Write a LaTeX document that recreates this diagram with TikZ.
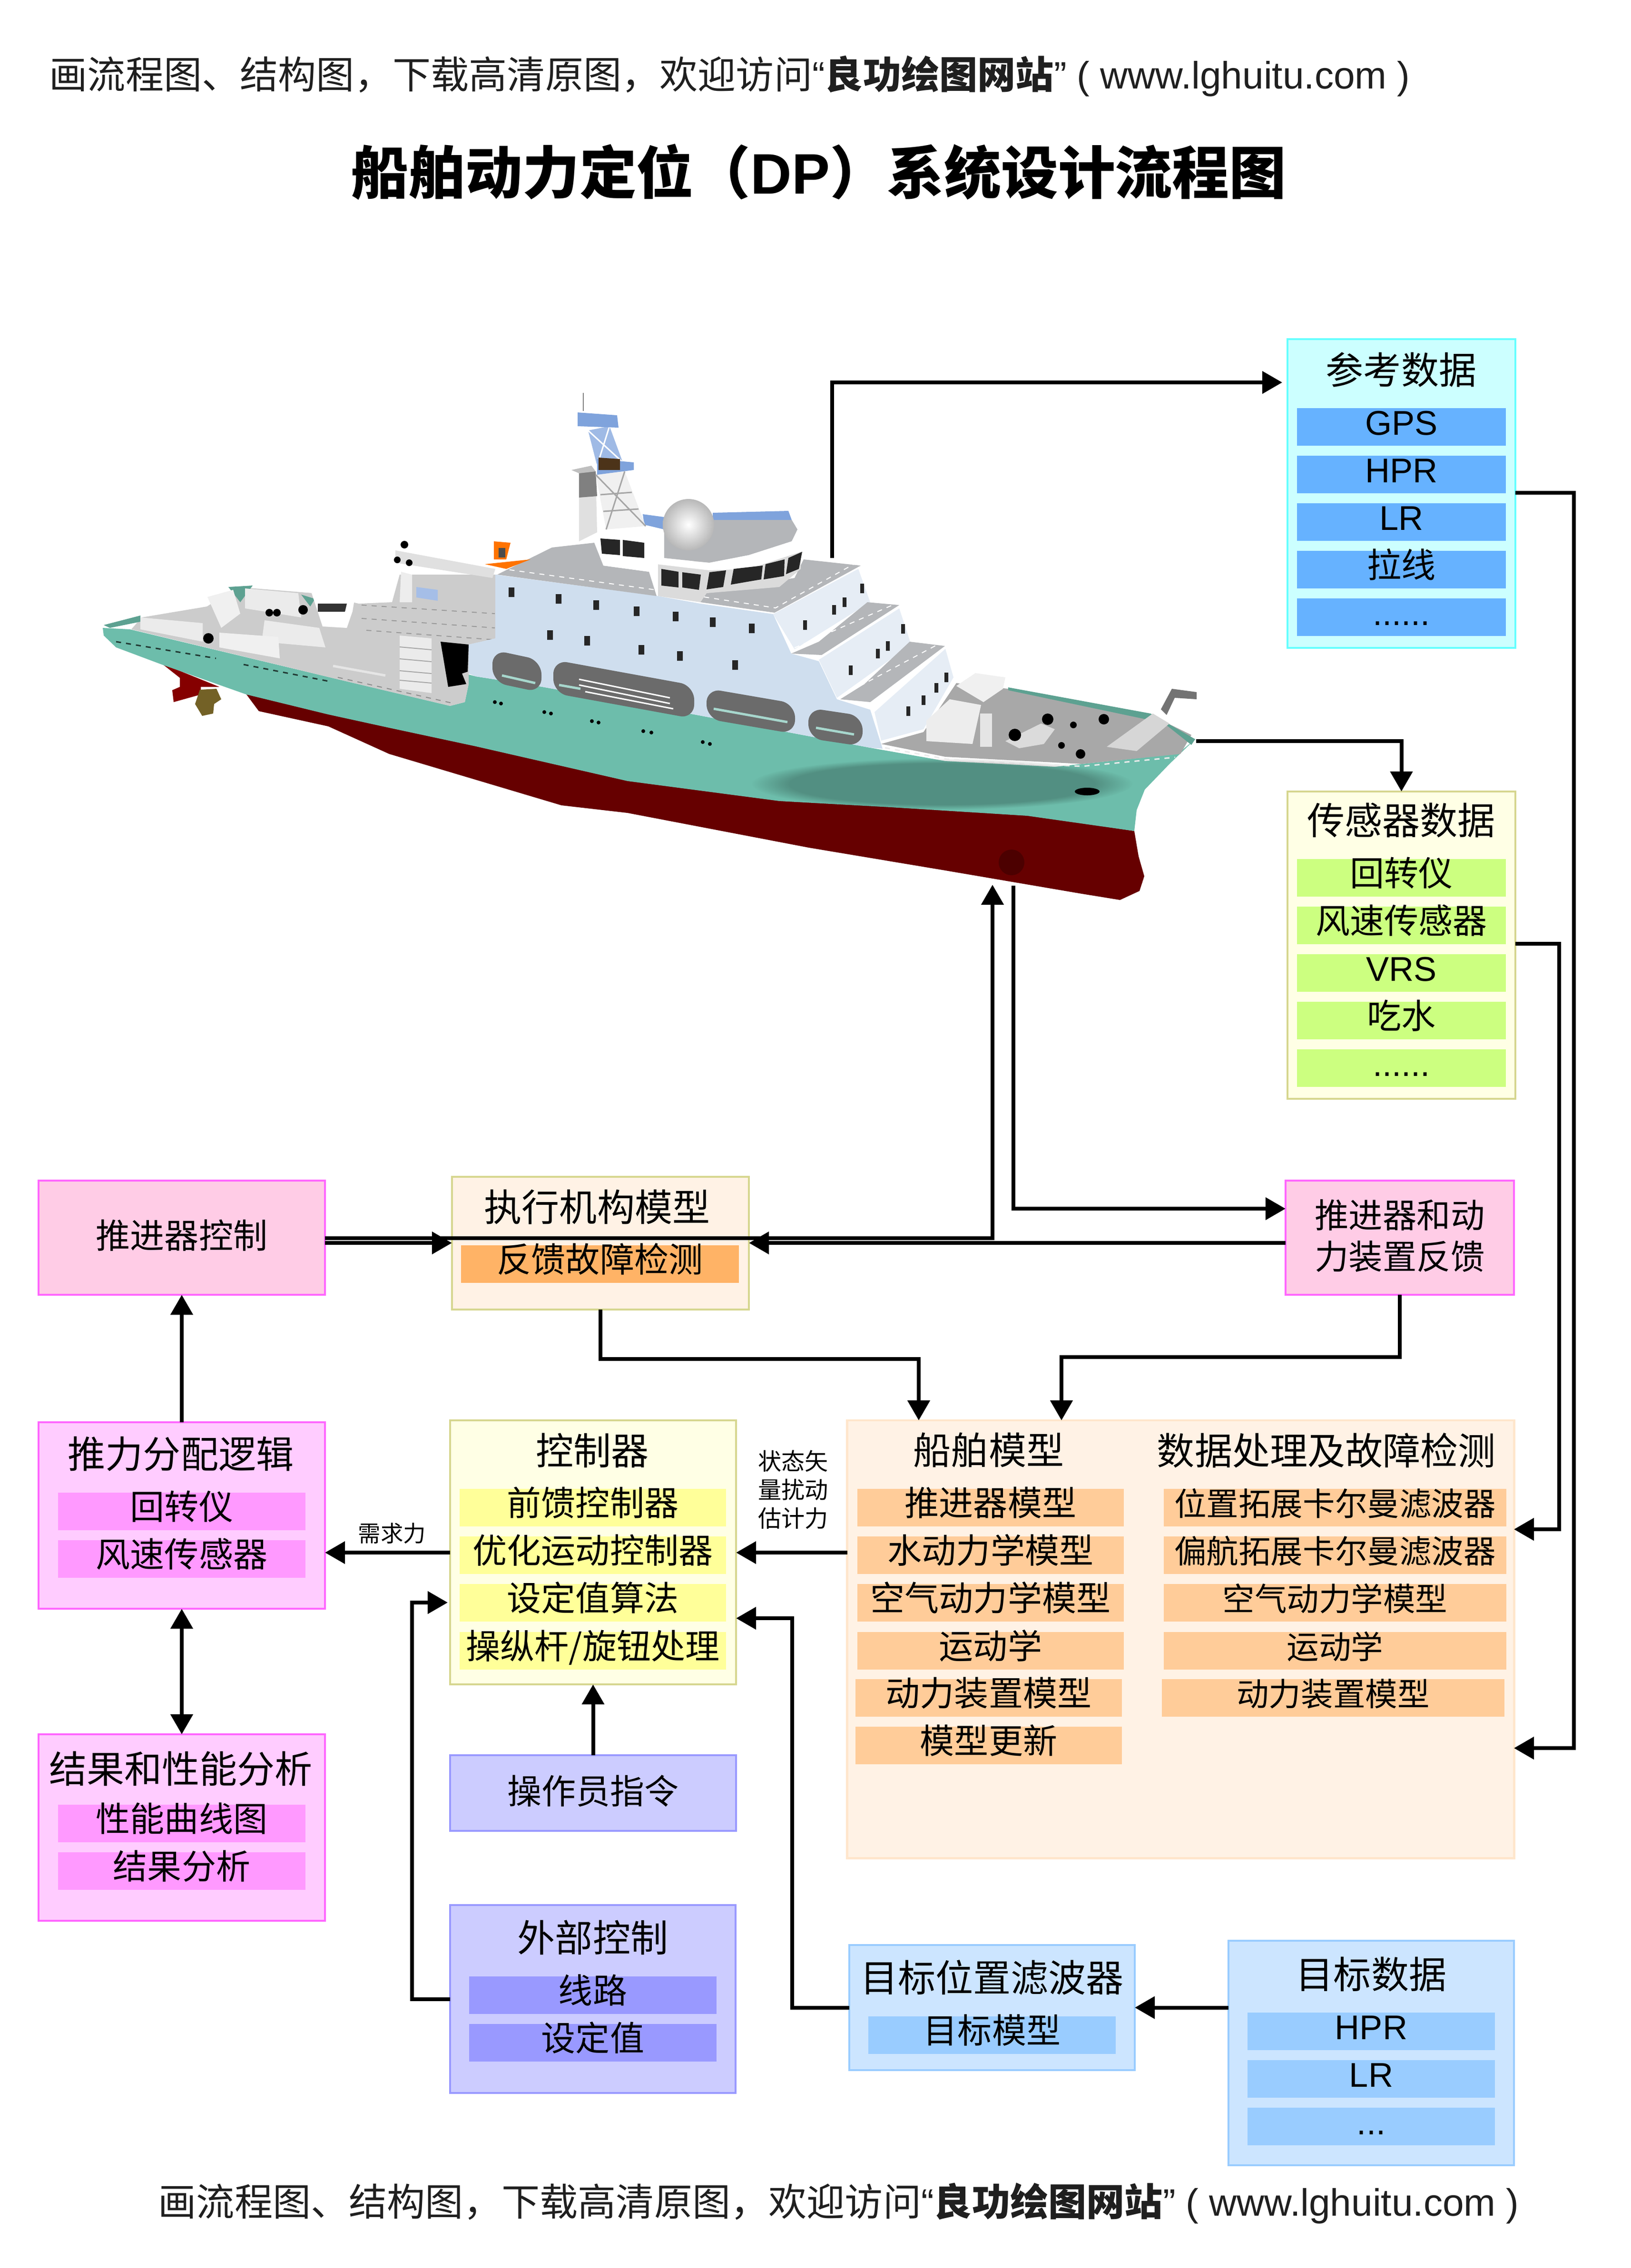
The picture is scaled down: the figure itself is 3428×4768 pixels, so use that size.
\documentclass[tikz,border=0pt]{standalone}
\usepackage{fontspec}
\usepackage{xcolor}
\setmainfont{Noto Sans CJK SC}
\newfontfamily\latinfont{Liberation Sans}
\usetikzlibrary{arrows.meta, fadings}

\definecolor{refback}{HTML}{CCFFFF}
\definecolor{refline}{HTML}{66FFFF}
\definecolor{refbar}{HTML}{66B2FF}
\definecolor{sensback}{HTML}{FFFFE5}
\definecolor{sensline}{HTML}{D6D68F}
\definecolor{sensbar}{HTML}{CCFF80}
\definecolor{pushback}{HTML}{FFCCE6}
\definecolor{pinkline}{HTML}{FF66FF}
\definecolor{pinkback}{HTML}{FFCCFF}
\definecolor{pinkbar}{HTML}{FF99FF}
\definecolor{peachback}{HTML}{FFF2E5}
\definecolor{peachline}{HTML}{FFE6CC}
\definecolor{peachbar}{HTML}{FFCC99}
\definecolor{actbar}{HTML}{FFB366}
\definecolor{ctrlbar}{HTML}{FFFF99}
\definecolor{violetback}{HTML}{CCCCFF}
\definecolor{violetbar}{HTML}{9999FF}
\definecolor{skyback}{HTML}{CCE5FF}
\definecolor{skybar}{HTML}{99CCFF}
\definecolor{hullgreen}{HTML}{6DBDAB}
\definecolor{hullred}{HTML}{660000}
\definecolor{cabin}{HTML}{CFDEEE}
\definecolor{cabinlight}{HTML}{E6EDF5}
\definecolor{deckgrey}{HTML}{B4B6B9}
\definecolor{railblue}{HTML}{7FA3DC}

\tikzset{
    panel/.style={draw, line width=0.045cm, inner sep=0pt, outer sep=0pt},
    barbox/.style={inner sep=0pt, outer sep=0pt, minimum height=0.79cm,
        font=\fontsize{20.5}{24}\selectfont, text height=0.97em, text depth=0em},
    headtext/.style={inner sep=0pt, font=\fontsize{22.5}{26}\selectfont},
    smalltext/.style={inner sep=0pt, align=center, font=\fontsize{13.5}{15.6}\selectfont},
    link/.style={line width=0.08cm, -{Triangle[length=0.42cm,width=0.46cm]}},
    twolink/.style={line width=0.08cm, {Triangle[length=0.42cm,width=0.46cm]}-{Triangle[length=0.42cm,width=0.46cm]}},
    noteline/.style={inner sep=0pt, anchor=west, text=black!88, font=\fontsize{22.8}{27}\selectfont},
}

\begin{document}
\begin{tikzpicture}[x=0.01cm, y=-0.01cm]
        \useasboundingbox (0,0) rectangle (3428,4768);

        % Header, title and footer
        \node[noteline] (topnote) at (103,160) {画流程图、结构图，下载高清原图，欢迎访问{\latinfont “}\textbf{良功绘图网站}{\latinfont ” ( www.lghuitu.com )}};
        \node[noteline] (botnote) at (332,4632) {画流程图、结构图，下载高清原图，欢迎访问{\latinfont “}\textbf{良功绘图网站}{\latinfont ” ( www.lghuitu.com )}};
        \node[inner sep=0pt, font=\fontsize{34.1}{40}\selectfont\bfseries] (title) at (1721,362) {船舶动力定位（{\latinfont DP}）系统设计流程图};

        % Ship: red underbody
        \fill[hullred] (518,1460) -- (2384,1747) -- (2393,1800) -- (2405,1842) -- (2395,1873) -- (2354,1892) -- (2274,1879) -- (1987,1830) -- (1700,1782) -- (1319,1709) -- (1180,1693) -- (818,1585) -- (690,1527) -- (544,1495) -- cycle;
        \fill[hullred!80!red] (340,1395) -- (461,1444) -- (422,1444) -- (422,1460) -- (365,1476) -- (362,1451) -- (378,1444) -- (378,1425) -- cycle;
        \fill[black!80!green!40!brown] (420,1450) -- (455,1448) -- (465,1470) -- (450,1480) -- (448,1500) -- (425,1505) -- (410,1480) -- cycle;
        \fill[hullred!75!black] (2126,1813) circle (27);

        % Ship: green topsides
        \fill[hullgreen] (216,1320) -- (273,1323) -- (710,1428) -- (946,1484) -- (977,1476) -- (985,1438) -- (977,1416) -- (1000,1422) -- (1140,1444) -- (1459,1502) -- (1829,1572) -- (1987,1600) -- (2217,1612) -- (2475,1585) -- (2512,1554) -- (2458,1606) -- (2406,1660) -- (2389,1703) -- (2384,1747) -- (2159,1715) -- (1872,1697) -- (1638,1684) -- (1319,1642) -- (1000,1569) -- (818,1530) -- (690,1502) -- (518,1460) -- (340,1397) -- (244,1361) -- (218,1336) -- cycle;
        \fill[black, opacity=0.24, path fading=circle with fuzzy edge 20 percent] (1980,1648) ellipse (400 and 54);
        \draw[black!70!hullgreen, line width=0.03cm, dashed] (244,1349) -- (454,1384);
        \draw[black!70!hullgreen, line width=0.03cm, dashed] (512,1397) -- (690,1432);
        \fill[black] (2285,1664) ellipse (26 and 8);
        \fill[black] (1040,1476) circle (4) (1053,1479) circle (4) (1144,1497) circle (4) (1158,1500) circle (4) (1244,1516) circle (4) (1258,1519) circle (4) (1352,1537) circle (4) (1369,1540) circle (4) (1477,1560) circle (4) (1492,1564) circle (4);

        % Ship: after deck and gear
        \fill[black!20] (276,1323) -- (298,1298) -- (435,1275) -- (499,1234) -- (658,1247) -- (754,1269) -- (824,1266) -- (840,1208) -- (1045,1208) -- (1045,1342) -- (985,1355) -- (985,1438) -- (977,1476) -- (946,1484) -- (710,1428) -- cycle;
        \fill[hullgreen!85!black] (218,1314) -- (295,1294) -- (295,1307) -- (231,1320) -- cycle;
        \fill[hullgreen!85!black] (480,1234) -- (531,1231) -- (505,1266) -- cycle;
        \fill[hullgreen!85!black] (633,1250) -- (662,1259) -- (652,1275) -- cycle;
        \fill[black!8] (295,1298) -- (426,1310) -- (426,1349) -- (295,1323) -- cycle;
        \fill[black!8] (515,1237) -- (627,1247) -- (633,1298) -- (515,1279) -- cycle;
        \fill[black!8] (556,1304) -- (671,1320) -- (684,1361) -- (550,1349) -- cycle;
        \fill[black!6] (461,1330) -- (585,1339) -- (588,1384) -- (461,1361) -- cycle;
        \fill[black!6] (436,1255) -- (490,1240) -- (505,1290) -- (465,1320) -- cycle;
        \fill[white] (655,1247) -- (748,1243) -- (741,1285) -- (729,1320) -- (678,1317) -- cycle;
        \fill[black!80] (668,1269) -- (729,1269) -- (725,1286) -- (668,1286) -- cycle;
        \fill[black!7] (843,1202) -- (866,1208) -- (866,1266) -- (840,1266) -- cycle;
        \fill[black!12] (831,1157) -- (1041,1196) -- (1035,1215) -- (831,1183) -- cycle;
        \fill[railblue!70] (875,1234) -- (920,1240) -- (920,1263) -- (875,1256) -- cycle;
        \fill[black!8] (840,1336) -- (907,1342) -- (907,1457) -- (840,1448) -- cycle;
        \draw[black!35, line width=0.02cm] (840,1360) -- (907,1366) (840,1385) -- (907,1391) (840,1410) -- (907,1416) (840,1430) -- (907,1436);
        \draw[black!40, line width=0.02cm, dashed] (760,1272) -- (1040,1290) (760,1300) -- (1040,1320) (770,1325) -- (1040,1345);
        \fill[black] (926,1349) -- (985,1355) -- (983,1412) -- (971,1416) -- (980,1438) -- (942,1444) -- cycle;
        \draw[black!10, line width=0.05cm] (700,1400) -- (810,1420);
        \draw[black!45, line width=0.02cm, dashed] (710,1424) -- (950,1478);
        \fill[black] (850,1145) circle (8) (835,1177) circle (7) (860,1183) circle (7) (438,1342) circle (11) (566,1288) circle (8) (582,1288) circle (8) (637,1282) circle (10);

        % Ship: superstructure
        \fill[cabin] (1041,1208) -- (1383,1253) -- (1472,1269) -- (1625,1291) -- (1663,1374) -- (1721,1390) -- (1759,1470) -- (1829,1492) -- (1855,1574) -- (1829,1572) -- (1459,1502) -- (1140,1444) -- (1000,1422) -- (985,1416) -- (985,1355) -- (1041,1342) -- cycle;
        \fill[cabinlight] (1625,1291) -- (1804,1196) -- (1829,1266) -- (1670,1365) -- cycle;
        \fill[cabinlight] (1721,1387) -- (1890,1279) -- (1915,1355) -- (1759,1467) -- cycle;
        \fill[cabinlight] (1838,1497) -- (1987,1364) -- (2004,1424) -- (1941,1533) -- (1852,1557) -- cycle;
        \fill[deckgrey] (1689,1176) -- (1809,1189) -- (1628,1288) -- (1472,1266) -- (1485,1247) -- (1670,1215) -- cycle;
        \fill[deckgrey] (1890,1272) -- (1823,1266) -- (1721,1349) -- (1663,1374) -- (1727,1377) -- cycle;
        \fill[deckgrey] (1986,1358) -- (1912,1349) -- (1817,1438) -- (1766,1470) -- (1829,1476) -- cycle;
        \fill[deckgrey] (1045,1208) -- (1160,1151) -- (1249,1141) -- (1268,1189) -- (1364,1202) -- (1380,1253) -- cycle;
        \draw[white, line width=0.02cm, dashed] (1050,1195) -- (1378,1240) (1480,1255) -- (1630,1278) -- (1805,1180) (1670,1362) -- (1885,1268) (1770,1462) -- (1980,1350);

        % Ship: rounded deck openings
        \fill[black!58, rounded corners=0.3cm] (1035,1366) -- (1138,1388) -- (1138,1456) -- (1035,1434) -- cycle;
        \fill[black!58, rounded corners=0.3cm] (1163,1387) -- (1459,1441) -- (1459,1511) -- (1163,1457) -- cycle;
        \fill[black!58, rounded corners=0.3cm] (1485,1447) -- (1671,1479) -- (1671,1543) -- (1485,1511) -- cycle;
        \fill[black!58, rounded corners=0.3cm] (1699,1488) -- (1813,1505) -- (1813,1569) -- (1699,1552) -- cycle;
        \draw[hullgreen!60!white, line width=0.05cm] (1055,1420) -- (1125,1436) (1175,1440) -- (1220,1448) (1500,1490) -- (1655,1518) (1715,1530) -- (1795,1544);
        \draw[white, line width=0.03cm] (1217,1428) -- (1408,1467) (1217,1440) -- (1408,1479) (1230,1454) -- (1415,1490);

        % Ship: bridge and dome
        \fill[black!14] (1383,1186) -- (1683,1160) -- (1683,1196) -- (1638,1234) -- (1485,1247) -- (1472,1266) -- (1383,1253) -- cycle;
        \fill[deckgrey] (1498,1093) -- (1664,1093) -- (1676,1113) -- (1664,1138) -- (1574,1167) -- (1491,1183) -- (1396,1173) -- (1396,1113) -- cycle;
        \fill[railblue] (1351,1081) -- (1396,1087) -- (1396,1113) -- (1354,1103) -- cycle;
        \fill[railblue] (1498,1078) -- (1657,1074) -- (1664,1093) -- (1498,1093) -- cycle;
        \fill[white] (1380,1173) -- (1491,1183) -- (1574,1167) -- (1664,1138) -- (1676,1116) -- (1695,1138) -- (1683,1160) -- (1574,1196) -- (1491,1199) -- (1380,1186) -- cycle;
        \fill[black!85] (1390,1196) -- (1426,1202) -- (1426,1235) -- (1390,1231) -- cycle;
        \fill[black!85] (1434,1203) -- (1473,1208) -- (1469,1240) -- (1434,1235) -- cycle;
        \fill[black!85] (1491,1203) -- (1526,1199) -- (1520,1234) -- (1485,1239) -- cycle;
        \fill[black!85] (1542,1196) -- (1603,1189) -- (1600,1218) -- (1536,1229) -- cycle;
        \fill[black!85] (1609,1186) -- (1649,1176) -- (1648,1211) -- (1605,1218) -- cycle;
        \fill[black!85] (1657,1173) -- (1686,1160) -- (1679,1196) -- (1652,1207) -- cycle;
        \fill[white] (1252,1116) -- (1370,1132) -- (1364,1202) -- (1268,1189) -- cycle;
        \fill[black!85] (1262,1132) -- (1303,1135) -- (1303,1167) -- (1265,1164) -- cycle;
        \fill[black!85] (1309,1135) -- (1354,1141) -- (1354,1173) -- (1309,1169) -- cycle;
        \shade[inner color=white, outer color=black!28] (1447,1103) circle (54);

        % Ship: mast
        \fill[black!12] (1217,991) -- (1252,991) -- (1255,1119) -- (1217,1138) -- cycle;
        \fill[black!50] (1217,991) -- (1252,991) -- (1255,1043) -- (1217,1046) -- cycle;
        \fill[black!25] (1201,988) -- (1243,979) -- (1252,991) -- (1217,995) -- cycle;
        \fill[black!6] (1252,998) -- (1313,991) -- (1357,1106) -- (1274,1113) -- cycle;
        \draw[black!35, line width=0.03cm] (1252,998) -- (1357,1106) (1313,991) -- (1274,1113) (1262,1040) -- (1328,1035) (1268,1075) -- (1342,1070);
        \fill[railblue!75] (1236,905) -- (1281,896) -- (1309,972) -- (1255,979) -- cycle;
        \draw[white, line width=0.03cm] (1236,905) -- (1309,972) (1281,896) -- (1255,979);
        \fill[railblue] (1255,965) -- (1332,972) -- (1332,988) -- (1255,998) -- cycle;
        \fill[black!60!brown] (1258,962) -- (1303,965) -- (1303,988) -- (1258,988) -- cycle;
        \fill[railblue] (1214,867) -- (1297,873) -- (1300,899) -- (1214,896) -- cycle;
        \draw[black!50, line width=0.02cm] (1226,826) -- (1226,864);

        % Ship: rescue boat
        \fill[orange!90!red] (1038,1138) -- (1073,1141) -- (1064,1176) -- (1038,1176) -- cycle;
        \fill[orange!90!red] (1019,1186) -- (1115,1176) -- (1064,1196) -- cycle;
        \fill[black!70] (1048,1152) rectangle ++(14,20);

        % Ship: small windows
        \fill[black!85] (1069,1235) rectangle ++(12,20) (1168,1249) rectangle ++(12,20) (1247,1262) rectangle ++(12,20) (1332,1275) rectangle ++(12,20) (1414,1286) rectangle ++(12,20) (1492,1298) rectangle ++(12,20) (1574,1311) rectangle ++(12,20) (1150,1325) rectangle ++(12,20) (1228,1337) rectangle ++(12,20) (1342,1356) rectangle ++(12,20) (1423,1369) rectangle ++(12,20) (1539,1388) rectangle ++(12,20);
        \fill[black!85] (1688,1304) rectangle ++(8,20) (1749,1272) rectangle ++(8,20) (1771,1256) rectangle ++(8,20) (1808,1227) rectangle ++(8,20) (1784,1399) rectangle ++(8,20) (1841,1364) rectangle ++(8,20) (1862,1348) rectangle ++(8,20) (1894,1312) rectangle ++(8,20) (1905,1485) rectangle ++(8,20) (1937,1462) rectangle ++(8,20) (1964,1436) rectangle ++(8,20) (1985,1414) rectangle ++(8,20);

        % Ship: fore deck
        \fill[black!34] (1852,1564) -- (1941,1539) -- (2010,1436) -- (2119,1448) -- (2418,1503) -- (2504,1545) -- (2481,1585) -- (2274,1606) -- (1987,1591) -- cycle;
        \fill[hullgreen!85!black] (2119,1445) -- (2418,1500) -- (2512,1554) -- (2504,1566) -- (2446,1520) -- (2119,1451) -- cycle;
        \fill[black!7] (1947,1515) -- (1996,1470) -- (2062,1482) -- (2044,1564) -- (1947,1558) -- cycle;
        \fill[black!6] (2010,1442) -- (2050,1415) -- (2113,1424) -- (2108,1448) -- (2067,1476) -- cycle;
        \fill[black!16] (2326,1570) -- (2423,1500) -- (2458,1521) -- (2389,1579) -- cycle;
        \fill[black!55] (2440,1491) -- (2463,1448) -- (2515,1455) -- (2515,1470) -- (2469,1467) -- (2452,1503) -- cycle;
        \fill[black!10] (2060,1500) rectangle ++(25,70);
        \fill[black!14] (2113,1558) -- (2188,1521) -- (2217,1533) -- (2194,1564) -- (2142,1573) -- cycle;
        \fill[black] (2133,1545) circle (13) (2202,1512) circle (12) (2320,1512) circle (11) (2271,1585) circle (10) (2256,1524) circle (7) (2231,1567) circle (7);
        \draw[black!8, line width=0.03cm, dashed] (1860,1572) -- (1990,1596) -- (2274,1611) -- (2470,1592);

        % Free ends on the ship
        \coordinate (shiptop) at (1749,1173);
        \coordinate (refin) at (2695,804);
        \coordinate (shipbow) at (2514,1558);
        \coordinate (keelin) at (2086,1860);
        \coordinate (keelout) at (2130,1862);
        \coordinate (hprbend) at (3308,1036);
        \coordinate (sensbend) at (3277,1984);
        \coordinate (feedup) at (2086,2603);
        \coordinate (procsens) at (3182,3215);
        \coordinate (procref) at (3182,3675);

        % Reference data
        \node[panel, draw=refline, fill=refback, minimum width=4.79cm, minimum height=6.49cm] (refbox) at (2945.5,1037.5) {};
        \node[headtext] (refhead) at (2945,777) {参考数据};
        \node[barbox, fill=refbar, minimum width=4.39cm] (refgps) at (2945.5,897.5) {\latinfont GPS};
        \node[barbox, fill=refbar, minimum width=4.39cm] (refhpr) at (2945.5,997.5) {\latinfont HPR};
        \node[barbox, fill=refbar, minimum width=4.39cm] (reflr) at (2945.5,1097) {\latinfont LR};
        \node[barbox, fill=refbar, minimum width=4.39cm] (refwire) at (2945.5,1197) {拉线};
        \node[barbox, fill=refbar, minimum width=4.39cm] (refmore) at (2945.5,1297) {\latinfont ......};

        % Sensor data
        \node[panel, draw=sensline, fill=sensback, minimum width=4.79cm, minimum height=6.46cm] (sensbox) at (2945.5,1987) {};
        \node[headtext] (senshead) at (2945,1724) {传感器数据};
        \node[barbox, fill=sensbar, minimum width=4.39cm] (sensgyro) at (2945.5,1845) {回转仪};
        \node[barbox, fill=sensbar, minimum width=4.39cm] (senswind) at (2945.5,1945) {风速传感器};
        \node[barbox, fill=sensbar, minimum width=4.39cm] (sensvrs) at (2945.5,2045) {\latinfont VRS};
        \node[barbox, fill=sensbar, minimum width=4.39cm] (sensdraft) at (2945.5,2145) {吃水};
        \node[barbox, fill=sensbar, minimum width=4.39cm] (sensmore) at (2945.5,2245) {\latinfont ......};

        % Thruster row
        \node[panel, draw=pinkline, fill=pushback, minimum width=6.02cm, minimum height=2.40cm, font=\fontsize{20.5}{24}\selectfont, text depth=0.45em] (pushctrl) at (382,2602) {推进器控制};
        \node[panel, draw=sensline, fill=peachback, minimum width=6.24cm, minimum height=2.79cm] (actbox) at (1262,2613.5) {};
        \node[headtext] (acthead) at (1255,2537) {执行机构模型};
        \node[barbox, fill=actbar, minimum width=5.83cm] (actfault) at (1261,2657) {反馈故障检测};
        \node[panel, draw=pinkline, fill=pushback, minimum width=4.80cm, minimum height=2.40cm, align=center, text depth=0.4em, font=\fontsize{20.3}{24.7}\selectfont] (pushback) at (2942,2602) {推进器和动\\力装置反馈};

        % Thrust allocation
        \node[panel, draw=pinkline, fill=pinkback, minimum width=6.02cm, minimum height=3.92cm] (allocbox) at (382,3186) {};
        \node[headtext] (allochead) at (380,3057) {推力分配逻辑};
        \node[barbox, fill=pinkbar, minimum width=5.20cm] (allocgyro) at (382,3177) {回转仪};
        \node[barbox, fill=pinkbar, minimum width=5.20cm] (allocwind) at (382,3277) {风速传感器};

        % Results
        \node[panel, draw=pinkline, fill=pinkback, minimum width=6.02cm, minimum height=3.92cm] (resbox) at (382,3842) {};
        \node[headtext] (reshead) at (380,3718) {结果和性能分析};
        \node[barbox, fill=pinkbar, minimum width=5.20cm] (rescurve) at (382,3833) {性能曲线图};
        \node[barbox, fill=pinkbar, minimum width=5.20cm] (resanal) at (382,3933) {结果分析};

        % Controller
        \node[panel, draw=sensline, fill=sensback, minimum width=6.01cm, minimum height=5.55cm] (ctrlbox) at (1246.5,3263.5) {};
        \node[headtext] (ctrlhead) at (1245,3049) {控制器};
        \node[barbox, fill=ctrlbar, minimum width=5.60cm] (ctrlfeed) at (1246,3169.5) {前馈控制器};
        \node[barbox, fill=ctrlbar, minimum width=5.60cm] (ctrlopt) at (1246,3269.5) {优化运动控制器};
        \node[barbox, fill=ctrlbar, minimum width=5.60cm] (ctrlset) at (1246,3369.5) {设定值算法};
        \node[barbox, fill=ctrlbar, minimum width=5.60cm] (ctrlstick) at (1246,3470) {操纵杆/旋钮处理};

        % Operator and external control
        \node[panel, draw=violetbar, fill=violetback, minimum width=6.01cm, minimum height=1.59cm, font=\fontsize{20.5}{24}\selectfont, text depth=0.4em] (opbox) at (1246.5,3769.5) {操作员指令};
        \node[panel, draw=violetbar, fill=violetback, minimum width=6.00cm, minimum height=3.95cm] (extbox) at (1246,4202.5) {};
        \node[headtext] (exthead) at (1246,4073) {外部控制};
        \node[barbox, fill=violetbar, minimum width=5.20cm] (extline) at (1246,4194) {线路};
        \node[barbox, fill=violetbar, minimum width=5.20cm] (extset) at (1246,4294) {设定值};

        % Ship model and data processing
        \node[panel, draw=peachline, fill=peachback, minimum width=14.01cm, minimum height=9.20cm] (procbox) at (2481.5,3446) {};
        \node[headtext] (shiphead) at (2078,3049) {船舶模型};
        \node[headtext] (datahead) at (2788,3049) {数据处理及故障检测};
        \node[barbox, fill=peachbar, minimum width=5.60cm] (shipthrust) at (2082,3169.5) {推进器模型};
        \node[barbox, fill=peachbar, minimum width=5.60cm] (shipwater) at (2082,3269.5) {水动力学模型};
        \node[barbox, fill=peachbar, minimum width=5.60cm] (shipair) at (2082,3369.5) {空气动力学模型};
        \node[barbox, fill=peachbar, minimum width=5.60cm] (shipkin) at (2082,3470) {运动学};
        \node[barbox, fill=peachbar, minimum width=5.60cm] (shippower) at (2078,3569.5) {动力装置模型};
        \node[barbox, fill=peachbar, minimum width=5.60cm] (shipupdate) at (2078,3669.5) {模型更新};
        \node[barbox, fill=peachbar, minimum width=7.20cm, font=\fontsize{19.2}{23}\selectfont] (datapos) at (2806,3169.5) {位置拓展卡尔曼滤波器};
        \node[barbox, fill=peachbar, minimum width=7.20cm, font=\fontsize{19.2}{23}\selectfont] (datayaw) at (2806,3269.5) {偏航拓展卡尔曼滤波器};
        \node[barbox, fill=peachbar, minimum width=7.20cm, font=\fontsize{19.2}{23}\selectfont] (dataair) at (2806,3369.5) {空气动力学模型};
        \node[barbox, fill=peachbar, minimum width=7.20cm, font=\fontsize{19.2}{23}\selectfont] (datakin) at (2806,3470) {运动学};
        \node[barbox, fill=peachbar, minimum width=7.20cm, font=\fontsize{19.2}{23}\selectfont] (datapower) at (2802,3569.5) {动力装置模型};

        % Target boxes
        \node[panel, draw=skybar, fill=skyback, minimum width=6.00cm, minimum height=2.63cm] (tgtfilter) at (2085,4220.5) {};
        \node[headtext] (filterhead) at (2085,4157) {目标位置滤波器};
        \node[barbox, fill=skybar, minimum width=5.20cm] (tgtmodel) at (2085,4278) {目标模型};
        \node[panel, draw=skybar, fill=skyback, minimum width=6.00cm, minimum height=4.72cm] (tgtdata) at (2882,4316) {};
        \node[headtext] (datatitle) at (2882,4150) {目标数据};
        \node[barbox, fill=skybar, minimum width=5.20cm] (tgthpr) at (2882,4270) {\latinfont HPR};
        \node[barbox, fill=skybar, minimum width=5.20cm] (tgtlr) at (2882,4370) {\latinfont LR};
        \node[barbox, fill=skybar, minimum width=5.20cm] (tgtmore) at (2882,4470) {\latinfont ...};

        % Small labels
        \node[smalltext] (forcelabel) at (824,3224) {需求力};
        \node[smalltext, font=\fontsize{14}{17}\selectfont] (statelabel) at (1667,3132) {状态矢\\量扰动\\估计力};

        % Connectors
        \draw[link] (shiptop) |- (refin);
        \draw[link] (shipbow) -| (sensbox.north);
        \draw[link] (refbox.east |- hprbend) -- (hprbend) |- (procref);
        \draw[link] (sensbox.east |- sensbend) -- (sensbend) |- (procsens);
        \draw[link] (pushctrl.east |- feedup) -- (feedup) -- (keelin);
        \draw[link] (keelout) |- (pushback.west |- 2130,2541);
        \draw[link] (pushctrl.east |- 0,2613) -- (actbox.west |- 0,2613);
        \draw[link] (pushback.west |- 0,2613) -- (actbox.east |- 0,2613);
        \draw[link] (actbox.south) -- ++(0,104) -| (1931,2986);
        \draw[link] (pushback.south) -- ++(0,131) -| (2231,2986);
        \draw[link] (procbox.west |- 0,3264) -- (ctrlbox.east |- 0,3264);
        \draw[link] (ctrlbox.west |- 0,3264) -- (allocbox.east |- 0,3264);
        \draw[link] (allocbox.north) -- (pushctrl.south);
        \draw[twolink] (allocbox.south) -- (resbox.north);
        \draw[link] (opbox.north) -- (ctrlbox.south);
        \draw[link] (extbox.west) -- ++(-80,0) |- (941,3369);
        \draw[link] (tgtfilter.west) -- ++(-120,0) |- (ctrlbox.east |- 0,3402);
        \draw[link] (tgtdata.west |- tgtfilter.east) -- (tgtfilter.east);
\end{tikzpicture}
\end{document}
